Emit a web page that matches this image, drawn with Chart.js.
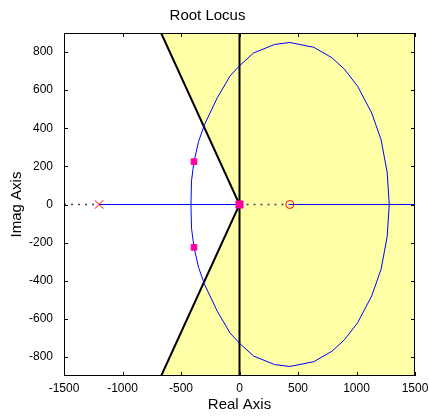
<!DOCTYPE html>
<html>
<head>
<meta charset="utf-8">
<script src="https://cdn.jsdelivr.net/npm/chart.js@4.4.1/dist/chart.umd.min.js"></script>
<style>
  html, body { margin: 0; padding: 0; background: #fff; }
  canvas { display: block; }
</style>
</head>
<body>
<canvas id="chart" width="429" height="417"></canvas>
<script>
// axis ticks
const xTicks = [-1500, -1000, -500, 0, 500, 1000, 1500];
const yTicks = [-800, -600, -400, -200, 0, 200, 400, 600, 800];

// root locus branch
const locusX = [1280, 1262, 1210, 1130, 1010, 897, 790, 635, 430, 300, 120, 0, -80, -190, -300, -350, -389, -410, -415,
  -410, -389, -350, -300, -190, -80, 0, 120, 300, 430, 635, 790, 897, 1010, 1130, 1210, 1262, 1280];
const locusY = [0, 170, 340, 480, 620, 710, 770, 825, 850, 840, 795, 728, 675, 560, 418, 330, 225, 125, 0,
  -125, -225, -330, -418, -560, -675, -728, -795, -840, -850, -825, -770, -710, -620, -480, -340, -170, 0];

// real-axis segments
const realLeftX = [-1200, 0];
const realRightX = [430, 1500];
const dotLeftX = [-1500, -1200];
const dotMidX = [0, 430];

// open-loop pole / zero
const poleX = [-1200];
const zeroX = [430];

// closed-loop poles
const clX = [-389, -389];
const clY = [225, -225];
const clOrigin = [0];

// damping boundary lines
const dampX = [-670, 0, -670];
const dampY = [900, 0, -900];
const imagAxisY = [-900, 900];

const pts = (xs, ys) => xs.map((x, i) => ({ x, y: ys[i] }));
const onAxis = (xs) => xs.map((x) => ({ x, y: 0 }));

const boxPlugin = {
  id: "boxPlugin",
  afterDraw(chart) {
    const { ctx, chartArea: a, scales } = chart;
    ctx.save();
    ctx.strokeStyle = "#000";
    ctx.lineWidth = 1;
    ctx.strokeRect(a.left + 0.5, a.top + 0.5, a.right - a.left - 1, a.bottom - a.top - 1);
    ctx.beginPath();
    const len = 4;
    xTicks.forEach((v) => {
      const px = Math.round(scales.x.getPixelForValue(v)) + 0.5;
      ctx.moveTo(px, a.bottom);
      ctx.lineTo(px, a.bottom - len);
      ctx.moveTo(px, a.top);
      ctx.lineTo(px, a.top + len);
    });
    yTicks.forEach((v) => {
      const py = Math.round(scales.y.getPixelForValue(v)) + 0.5;
      ctx.moveTo(a.left, py);
      ctx.lineTo(a.left + len, py);
      ctx.moveTo(a.right, py);
      ctx.lineTo(a.right - len, py);
    });
    ctx.stroke();
    ctx.restore();
  },
};

const font = "'Liberation Sans', Arial, sans-serif";

new Chart(document.getElementById("chart"), {
  type: "scatter",
  data: {
    datasets: [
      {
        data: onAxis(clOrigin),
        pointStyle: "rect",
        pointRadius: 5,
        backgroundColor: "#ff00a0",
        borderColor: "#ff00a0",
        showLine: false,
      },
      {
        data: pts(clX, clY),
        pointStyle: "rect",
        pointRadius: 4,
        backgroundColor: "#ff00a0",
        borderColor: "#ff00a0",
        showLine: false,
      },
      {
        data: onAxis(poleX),
        pointStyle: "crossRot",
        pointRadius: 6,
        borderColor: "#ff0000",
        borderWidth: 1,
        showLine: false,
      },
      {
        data: onAxis(zeroX),
        pointStyle: "circle",
        pointRadius: 4,
        backgroundColor: "rgba(0,0,0,0)",
        borderColor: "#ff0000",
        borderWidth: 1,
        showLine: false,
      },
      {
        data: pts(locusX, locusY),
        showLine: true,
        borderColor: "#0000ff",
        borderWidth: 1,
        pointRadius: 0,
      },
      {
        data: onAxis(realLeftX),
        showLine: true,
        borderColor: "#0000ff",
        borderWidth: 1,
        pointRadius: 0,
      },
      {
        data: onAxis(realRightX),
        showLine: true,
        borderColor: "#0000ff",
        borderWidth: 1,
        pointRadius: 0,
      },
      {
        data: onAxis(dotLeftX),
        showLine: true,
        borderColor: "#444",
        borderWidth: 1.5,
        borderDash: [2, 5],
        pointRadius: 0,
      },
      {
        data: onAxis(dotMidX),
        showLine: true,
        borderColor: "#444",
        borderWidth: 1.5,
        borderDash: [2, 5],
        pointRadius: 0,
      },
      {
        data: pts([0, 0], imagAxisY),
        showLine: true,
        borderColor: "#000",
        borderWidth: 2,
        pointRadius: 0,
      },
      {
        data: pts(dampX, dampY),
        showLine: true,
        borderColor: "#000",
        borderWidth: 2,
        pointRadius: 0,
      },
      // yellow region, upper half (filled up to top edge)
      {
        data: pts([dampX[0], 0, 1500], [dampY[0], 0, 0]),
        showLine: true,
        borderWidth: 0,
        borderColor: "rgba(0,0,0,0)",
        backgroundColor: "#ffffa8",
        fill: "end",
        pointRadius: 0,
      },
      // yellow region, lower half (filled down to bottom edge)
      {
        data: pts([dampX[2], 0, 1500], [dampY[2], 0, 0]),
        showLine: true,
        borderWidth: 0,
        borderColor: "rgba(0,0,0,0)",
        backgroundColor: "#ffffa8",
        fill: "start",
        pointRadius: 0,
      },
    ],
  },
  options: {
    responsive: false,
    animation: false,
    layout: { padding: { left: 0, right: 14, top: 0, bottom: 0 } },
    plugins: {
      legend: { display: false },
      tooltip: { enabled: false },
      title: {
        display: true,
        text: "Root Locus",
        color: "#000",
        font: { family: font, size: 15, weight: "normal" },
        padding: { top: 7, bottom: 8 },
      },
    },
    scales: {
      x: {
        type: "linear",
        min: -1500,
        max: 1500,
        afterBuildTicks: (s) => { s.ticks = xTicks.map((value) => ({ value })); },
        afterFit: (s) => {
          s.height = 41;
          s.paddingLeft = 0;
          s.paddingRight = 0;
        },
        grid: { display: false, drawTicks: false },
        border: { display: false },
        ticks: {
          color: "#000", padding: 5, maxRotation: 0, autoSkip: false,
          font: { family: font, size: 12 },
          callback: (v) => String(v),
        },
        title: {
          display: true,
          text: "Real Axis",
          color: "#000",
          font: { family: font, size: 15 },
          padding: { top: 0, bottom: 3 },
        },
      },
      y: {
        type: "linear",
        min: -900,
        max: 900,
        afterBuildTicks: (s) => { s.ticks = yTicks.map((value) => ({ value })); },
        afterFit: (s) => { s.width = 64; },
        grid: { display: false, drawTicks: false },
        border: { display: false },
        ticks: {
          color: "#000", padding: 11, autoSkip: false,
          font: { family: font, size: 12 },
          callback: (v) => String(v),
        },
        title: {
          display: true,
          text: "Imag Axis",
          color: "#000",
          font: { family: font, size: 15 },
          padding: { top: 8, bottom: 0 },
        },
      },
    },
  },
  plugins: [boxPlugin],
});
</script>
</body>
</html>
